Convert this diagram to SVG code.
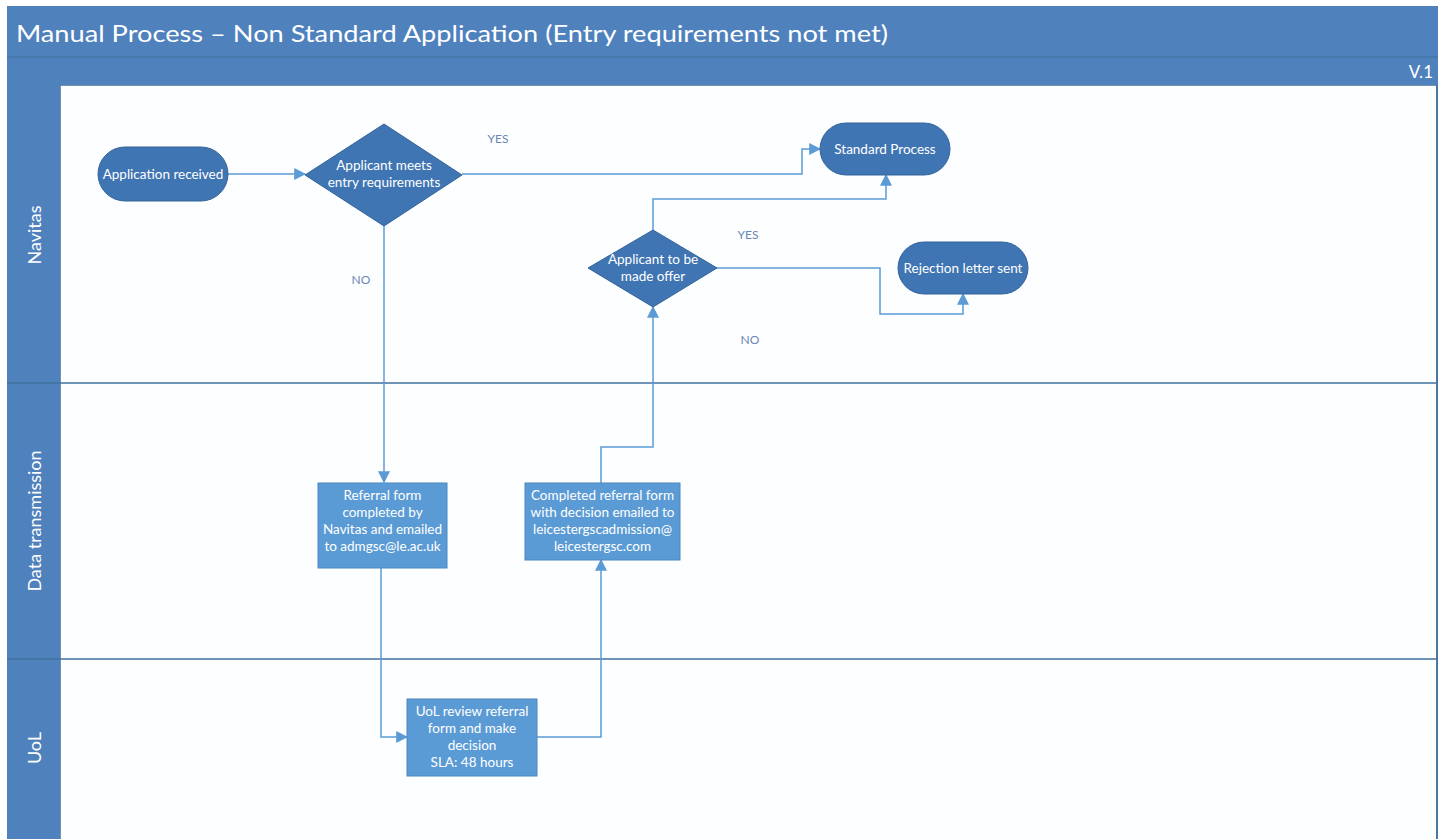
<svg xmlns="http://www.w3.org/2000/svg" width="1447" height="839" viewBox="0 0 1447 839">
<defs>
<marker id="arr" viewBox="0 0 10 10" refX="9" refY="5" markerWidth="12" markerHeight="12" markerUnits="userSpaceOnUse" orient="auto">
<path d="M0,0 L10,5 L0,10 z" fill="#5B9BD5"/>
</marker>
<style>
.hdr{fill:#4F81BD}
.lane{fill:#FDFEFF;stroke:#41719C;stroke-width:1.5}
.sep{stroke:#41719C;stroke-width:1.5}
.term{fill:#3F75B3;stroke:#34649A;stroke-width:1}
.dia{fill:#3F75B3;stroke:#34649A;stroke-width:1}
.box{fill:#5B9BD5;stroke:#4A86BF;stroke-width:1}
.t{font-family:Lato,"Open Sans",sans-serif;fill:#FFFFFF;font-size:13.5px;text-anchor:middle}
.lbl{font-family:Lato,"Open Sans",sans-serif;fill:#6A86B5;font-size:12px;text-anchor:middle}
.lt{font-family:Lato,"Open Sans",sans-serif;fill:#FFFFFF;font-size:18px;text-anchor:middle}
.c{fill:none;stroke:#5B9BD5;stroke-width:1.5;marker-end:url(#arr)}
</style>
</defs>
<rect x="0" y="0" width="1447" height="839" fill="#FFFFFF"/>
<g id="frame">
<rect class="lane" x="60" y="85" width="1377" height="760"/>
<rect class="hdr" x="7" y="6" width="1431" height="51"/>
<rect class="hdr" x="7" y="57" width="1431" height="28"/>
<line x1="7" y1="57" x2="1438" y2="57" stroke="#41719C" stroke-width="1"/>
<rect class="hdr" x="7" y="85" width="53" height="760"/>
<line class="sep" x1="7" y1="383" x2="1437" y2="383"/>
<line class="sep" x1="7" y1="659" x2="1437" y2="659"/>
<line x1="1437" y1="85" x2="1437" y2="839" stroke="#41719C" stroke-width="1.5"/>
<text x="16" y="42" font-family="Lato,'Open Sans',sans-serif" font-size="24" fill="#FFFFFF" textLength="872" lengthAdjust="spacingAndGlyphs">Manual Process – Non Standard Application (Entry requirements not met)</text>
<text x="1433" y="78" font-family="Lato,'Open Sans',sans-serif" font-size="17" fill="#FFFFFF" text-anchor="end">V.1</text>
</g>
<g id="lane-navitas"><text class="lt" transform="translate(41,235) rotate(-90)">Navitas</text></g>
<g id="lane-data"><text class="lt" transform="translate(41,521) rotate(-90)">Data transmission</text></g>
<g id="lane-uol"><text class="lt" transform="translate(41,748) rotate(-90)">UoL</text></g>
<g id="connectors">
<path class="c" d="M228,174 L305,174"/>
<path class="c" d="M462,174 L802,174 L802,149 L820,149"/>
<path class="c" d="M384,226 L384,482"/>
<path class="c" d="M381,568 L381,737 L407,737"/>
<path class="c" d="M537,737 L601,737 L601,560"/>
<path class="c" d="M601,483 L601,447 L653,447 L653,307"/>
<path class="c" d="M653,230 L653,199 L886,199 L886,175"/>
<path class="c" d="M716,268 L880,268 L880,314 L963,314 L963,294"/>
<text class="lbl" x="498" y="143">YES</text>
<text class="lbl" x="361" y="284">NO</text>
<text class="lbl" x="748" y="239">YES</text>
<text class="lbl" x="750" y="344">NO</text>
</g>
<g id="n-app">
<rect class="term" x="98" y="147" width="130" height="54" rx="27"/>
<text class="t" x="163" y="178.5">Application received</text>
</g>
<g id="n-meets">
<polygon class="dia" points="384,124 462,175 384,226 305,175"/>
<text class="t" x="384" y="170">Applicant meets</text>
<text class="t" x="384" y="187">entry requirements</text>
</g>
<g id="n-standard">
<rect class="term" x="820" y="123" width="130" height="52" rx="26"/>
<text class="t" x="885" y="153.5">Standard Process</text>
</g>
<g id="n-offer">
<polygon class="dia" points="653,230 717,268 653,307 588,268"/>
<text class="t" x="653" y="264">Applicant to be</text>
<text class="t" x="653" y="281">made offer</text>
</g>
<g id="n-reject">
<rect class="term" x="898" y="242" width="130" height="52" rx="26"/>
<text class="t" x="963" y="272.5">Rejection letter sent</text>
</g>
<g id="n-referral">
<rect class="box" x="318" y="483" width="129" height="85"/>
<text class="t" x="382.5" y="500">Referral form</text>
<text class="t" x="382.5" y="517">completed by</text>
<text class="t" x="382.5" y="534">Navitas and emailed</text>
<text class="t" x="382.5" y="551">to admgsc@le.ac.uk</text>
</g>
<g id="n-completed">
<rect class="box" x="525" y="483" width="155" height="77"/>
<text class="t" x="602.5" y="500">Completed referral form</text>
<text class="t" x="602.5" y="517">with decision emailed to</text>
<text class="t" x="602.5" y="534">leicestergscadmission@</text>
<text class="t" x="602.5" y="551">leicestergsc.com</text>
</g>
<g id="n-uol">
<rect class="box" x="407" y="699" width="130" height="77"/>
<text class="t" x="472" y="716">UoL review referral</text>
<text class="t" x="472" y="733">form and make</text>
<text class="t" x="472" y="750">decision</text>
<text class="t" x="472" y="767">SLA: 48 hours</text>
</g>
</svg>
